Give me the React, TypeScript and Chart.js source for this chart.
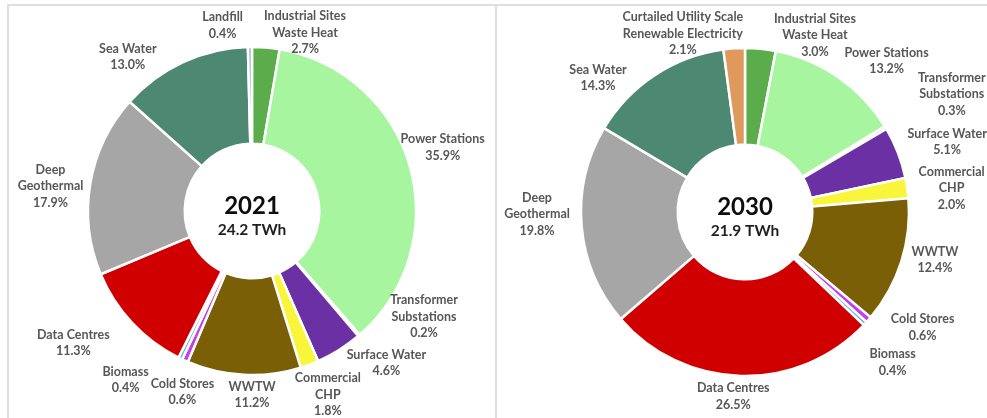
import React, { useEffect, useRef } from 'react';
import { Chart, registerables } from 'chart.js';

Chart.register(...registerables);

// Heat source shares (% of total recoverable heat), listed clockwise from 12 o'clock
const sources2021 = [
  'Industrial Sites\nWaste Heat',
  'Power Stations',
  'Transformer\nSubstations',
  'Surface Water',
  'Commercial\nCHP',
  'WWTW',
  'Cold Stores',
  'Biomass',
  'Data Centres',
  'Deep\nGeothermal',
  'Sea Water',
  'Landfill',
];
const share2021 = [2.7, 35.9, 0.2, 4.6, 1.8, 11.2, 0.6, 0.4, 11.3, 17.9, 13.0, 0.4];

const sources2030 = [
  'Industrial Sites\nWaste Heat',
  'Power Stations',
  'Transformer\nSubstations',
  'Surface Water',
  'Commercial\nCHP',
  'WWTW',
  'Cold Stores',
  'Biomass',
  'Data Centres',
  'Deep\nGeothermal',
  'Sea Water',
  'Curtailed Utility Scale\nRenewable Electricity',
];
const share2030 = [3.0, 13.2, 0.3, 5.1, 2.0, 12.4, 0.6, 0.4, 26.5, 19.8, 14.3, 2.1];

const years = ['2021', '2030'];
const totalsTWh = [24.2, 21.9];

// Segment colours by source
const sourceColors: Record<string, string> = {
  'Industrial Sites\nWaste Heat': '#5BAD4B',
  'Power Stations': '#A8F5A0',
  'Transformer\nSubstations': '#DCE4EF',
  'Surface Water': '#6B30A3',
  'Commercial\nCHP': '#F8F53A',
  'WWTW': '#7A5F07',
  'Cold Stores': '#C63CEE',
  'Biomass': '#5CBBD5',
  'Data Centres': '#D10000',
  'Deep\nGeothermal': '#A6A6A6',
  'Sea Water': '#4D8873',
  'Landfill': '#9FB4D3',
  'Curtailed Utility Scale\nRenewable Electricity': '#E0995C',
};

// Outside label placement: [angle shift from slice middle (deg), distance beyond outer edge (px)]
const labelPlace2021: [number, number][] = [
  [11.7, 22], [-2.8, 37], [-17.7, 38], [-9.4, 39], [-1.9, 35], [-2.9, 20],
  [-3.1, 30], [10.9, 47], [6.6, 58], [-2.5, 39], [-14, 34], [-8.3, 24],
];
const labelPlace2030: [number, number][] = [
  [16.2, 26], [8.5, 43], [1.3, 74], [2.1, 50], [1.8, 44], [-3.4, 32],
  [-8, 48], [2.7, 47], [2.2, 21], [4.3, 44], [-14.2, 35], [-15.4, 25],
];

const LABEL_FONT = 'bold 12.5px Lato, "Open Sans", sans-serif';
const LINE_H = 16.5;

type PanelProps = {
  labels: string[];
  values: number[];
  year: string;
  total: number;
  place: [number, number][];
  width: number;
  height: number;
  padding: { left: number; right: number; top: number; bottom: number };
};

function DonutPanel({ labels, values, year, total, place, width, height, padding }: PanelProps) {
  const ref = useRef<HTMLCanvasElement | null>(null);

  useEffect(() => {
    if (!ref.current) return;

    const labelPlugin = {
      id: 'outsideLabels',
      afterDraw(chart: any) {
        const ctx = chart.ctx as CanvasRenderingContext2D;
        const meta = chart.getDatasetMeta(0);
        ctx.save();
        ctx.font = LABEL_FONT;
        ctx.fillStyle = '#575757';
        ctx.textAlign = 'center';
        ctx.textBaseline = 'middle';
        meta.data.forEach((arc: any, i: number) => {
          const p = arc.getProps(['x', 'y', 'startAngle', 'endAngle', 'outerRadius'], true);
          const [shift, extra] = place[i];
          const a = (p.startAngle + p.endAngle) / 2 + (shift * Math.PI) / 180;
          const r = p.outerRadius + extra;
          const cx = p.x + Math.cos(a) * r;
          const cy = p.y + Math.sin(a) * r;
          const lines = [...labels[i].split('\n'), values[i].toFixed(1) + '%'];
          const y0 = cy - ((lines.length - 1) * LINE_H) / 2;
          lines.forEach((ln, k) => ctx.fillText(ln, cx, y0 + k * LINE_H));
        });

        // centre caption
        const first = meta.data[0].getProps(['x', 'y'], true);
        ctx.fillStyle = '#0d0d0d';
        ctx.font = 'bold 24px Lato, "Open Sans", sans-serif';
        ctx.fillText(year, first.x, first.y - 5);
        ctx.fillStyle = '#1f1f1f';
        ctx.font = 'bold 15.5px Lato, "Open Sans", sans-serif';
        ctx.fillText(total.toFixed(1) + ' TWh', first.x, first.y + 19);
        ctx.restore();
      },
    };

    const chart = new Chart(ref.current, {
      type: 'doughnut',
      data: {
        labels,
        datasets: [
          {
            data: values,
            backgroundColor: labels.map((l) => sourceColors[l]),
            borderColor: '#ffffff',
            borderWidth: 2.5,
          },
        ],
      },
      options: {
        responsive: false,
        animation: false,
        radius: 164,
        cutout: 84,
        layout: { padding },
        plugins: {
          legend: { display: false },
          tooltip: { enabled: false },
        },
      },
      plugins: [labelPlugin],
    });
    return () => chart.destroy();
  }, [labels, values, year, total, place, padding]);

  return <canvas ref={ref} width={width} height={height} style={{ display: 'block' }} />;
}

const pad2021 = { left: 1, right: 0, top: 0, bottom: 1 };
const pad2030 = { left: 7, right: 0, top: 1, bottom: 0 };

export default function App() {
  return (
    <div
      style={{
        position: 'absolute',
        left: 0,
        top: 0,
        width: 987,
        height: 418,
        overflow: 'hidden',
        background: '#ffffff',
      }}
    >
      {/* panel frames */}
      <div
        style={{
          position: 'absolute',
          left: 7,
          top: 4,
          width: 486,
          height: 430,
          borderTop: '2px solid #dedede',
          borderLeft: '2px solid #dedede',
          borderRight: '2px solid #dedede',
        }}
      />
      <div
        style={{
          position: 'absolute',
          left: 497,
          top: 4,
          width: 490,
          height: 2,
          background: '#dedede',
        }}
      />
      <div style={{ position: 'absolute', left: 8, top: 5 }}>
        <DonutPanel
          labels={sources2021}
          values={share2021}
          year={years[0]}
          total={totalsTWh[0]}
          place={labelPlace2021}
          width={487}
          height={413}
          padding={pad2021}
        />
      </div>
      <div style={{ position: 'absolute', left: 496, top: 5 }}>
        <DonutPanel
          labels={sources2030}
          values={share2030}
          year={years[1]}
          total={totalsTWh[1]}
          place={labelPlace2030}
          width={491}
          height={413}
          padding={pad2030}
        />
      </div>
    </div>
  );
}
